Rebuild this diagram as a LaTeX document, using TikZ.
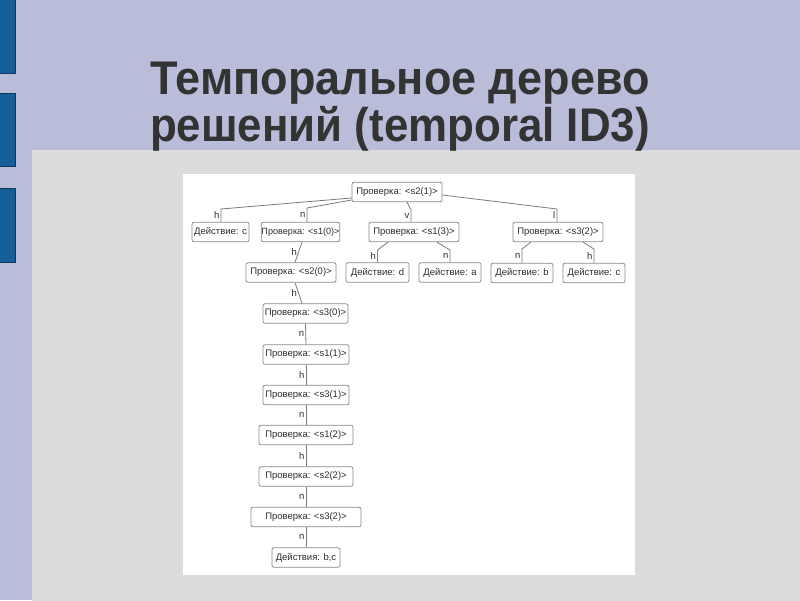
\documentclass[tikz,border=0pt]{standalone}
\usepackage{fontspec}
\setmainfont{Liberation Sans}
\definecolor{bgl}{HTML}{B9BDD9}
\definecolor{panel}{HTML}{DCDCDC}
\definecolor{barb}{HTML}{145F97}
\definecolor{bard}{HTML}{0C3A5E}
\definecolor{ttl}{HTML}{333333}
\definecolor{boxd}{HTML}{8A8A8A}
\definecolor{edg}{HTML}{7A7A7A}
\definecolor{txt}{HTML}{2E2E2E}
\tikzset{
  tbox/.style={draw=boxd, line width=0.8pt, fill=white, rounded corners=2pt,
    minimum height=19.5pt, inner sep=1pt, text=txt,
    font=\fontsize{9.5}{11}\selectfont},
  lbl/.style={text=txt, inner sep=1.3pt, font=\fontsize{9.5}{11}\selectfont},
  conn/.style={draw=edg, line width=0.8pt},
  ttext/.style={text=ttl, font=\fontsize{45}{50}\selectfont\bfseries, anchor=base}
}
\begin{document}
\begin{tikzpicture}[x=1pt,y=-1pt]
\useasboundingbox (0,0) rectangle (800,600);
% background
\fill[bgl] (0,0) rectangle (800,600);
\fill[barb, draw=bard, line width=0.8pt] (-1,-1) rectangle (15,73);
\fill[barb, draw=bard, line width=0.8pt] (-1,93) rectangle (15,166);
\fill[barb, draw=bard, line width=0.8pt] (-1,188) rectangle (15,262);
\fill[panel] (32,150) rectangle (801,601);
\fill[white] (183,174) rectangle (635,575);
% title
\node[ttext, yscale=1.05] (t1) at (400,94) {Темпоральное дерево};
\node[ttext, xscale=0.975, yscale=1.05] (t2) at (400,141) {решений (temporal ID3)};
% level 0
\node[tbox, minimum width=90pt] (root) at (397,192) {Проверка: <s2(1)>};
% level 1
\node[tbox, minimum width=57pt] (dc1) at (220.5,232) {Действие: c};
\node[tbox, minimum width=77pt, inner xsep=0.3pt, font=\fontsize{9.1}{11}\selectfont] (s10) at (300.5,232) {Проверка: <s1(0)>};
\node[tbox, minimum width=90pt] (s13) at (414,232) {Проверка: <s1(3)>};
\node[tbox, minimum width=90pt] (s32a) at (558,232) {Проверка: <s3(2)>};
% level 2
\node[tbox, minimum width=90pt] (s20) at (291,272.5) {Проверка: <s2(0)>};
\node[tbox, minimum width=63pt] (dd) at (377.5,272.5) {Действие: d};
\node[tbox, minimum width=62pt] (da) at (450,272.5) {Действие: a};
\node[tbox, minimum width=62pt] (db) at (522,273) {Действие: b};
\node[tbox, minimum width=62pt] (dc2) at (594,273) {Действие: c};
% chain
\node[tbox, minimum width=85pt] (s30) at (305.5,313.5) {Проверка: <s3(0)>};
\node[tbox, minimum width=86pt] (s11) at (306,354.5) {Проверка: <s1(1)>};
\node[tbox, minimum width=86pt] (s31) at (306,395) {Проверка: <s3(1)>};
\node[tbox, minimum width=94pt] (s12) at (306,435) {Проверка: <s1(2)>};
\node[tbox, minimum width=94pt] (s22) at (306,476.5) {Проверка: <s2(2)>};
\node[tbox, minimum width=110pt] (s32b) at (306,517) {Проверка: <s3(2)>};
\node[tbox, minimum width=68pt] (bc) at (306,557.5) {Действия: b,c};
% bend points
\coordinate (b1) at (221,209);
\coordinate (b2) at (307,208);
\coordinate (b3) at (411,210);
\coordinate (b4) at (557,209);
\coordinate (b5) at (377.5,250);
\coordinate (b6) at (450,250);
\coordinate (b7) at (522,249);
\coordinate (b8) at (594,249);
% edges from root
\draw[conn] ([yshift=-6pt]root.west) -- (b1) -- node[lbl,left]{h} (b1 |- dc1.north);
\draw[conn] ([yshift=-8pt]root.west) -- (b2) -- node[lbl,left]{n} (b2 |- s10.north);
\draw[conn] ([xshift=10pt]root.south) -- (b3) -- node[lbl,left]{v} (b3 |- s13.north);
\draw[conn] ([yshift=-3pt]root.east) -- (b4) -- node[lbl,left]{l} (b4 |- s32a.north);
% level 1 -> level 2
\draw[conn] ([xshift=-26pt]s13.south) -- (b5) -- node[lbl,left]{h} (b5 |- dd.north);
\draw[conn] ([xshift=23pt]s13.south) -- (b6) -- node[lbl,left]{n} (b6 |- da.north);
\draw[conn] ([xshift=-27pt]s32a.south) -- (b7) -- node[lbl,left]{n} (b7 |- db.north);
\draw[conn] ([xshift=25pt]s32a.south) -- (b8) -- node[lbl,left]{h} (b8 |- dc2.north);
\draw[conn] ([xshift=1.5pt]s10.south) -- node[lbl,left]{h} ([xshift=4pt]s20.north);
\draw[conn] ([xshift=4pt]s20.south) -- node[lbl,left]{h} ([xshift=-3.5pt]s30.north);
% chain
\draw[conn] (s30.south) -- node[lbl,left]{n} (s11.north);
\draw[conn] (s11.south) -- node[lbl,left]{h} (s31.north);
\draw[conn] (s31.south) -- node[lbl,left]{n} (s12.north);
\draw[conn] (s12.south) -- node[lbl,left]{h} (s22.north);
\draw[conn] (s22.south) -- node[lbl,left]{n} (s32b.north);
\draw[conn] (s32b.south) -- node[lbl,left]{n} (bc.north);
\end{tikzpicture}
\end{document}
